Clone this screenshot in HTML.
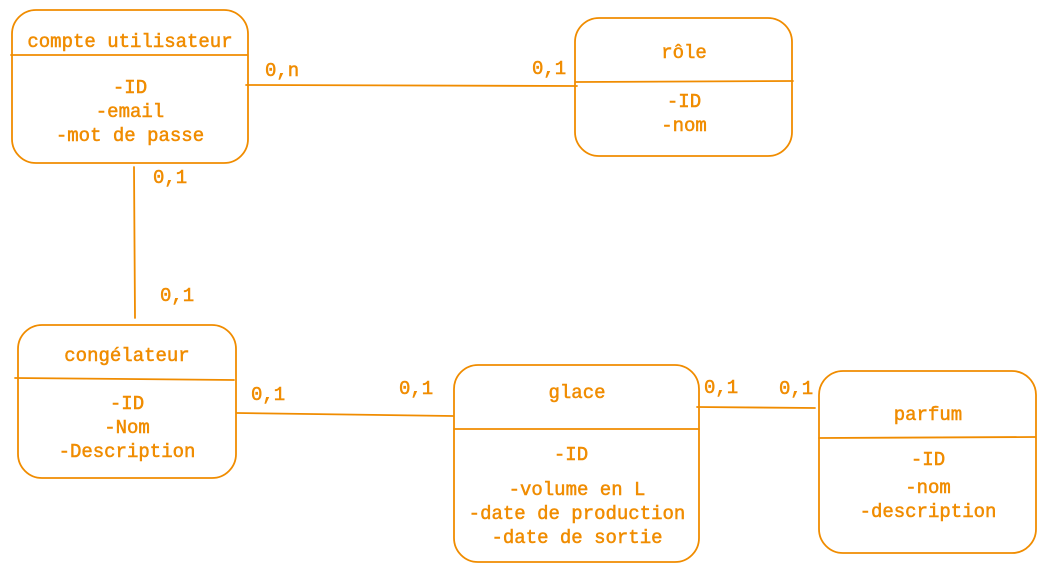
<!DOCTYPE html>
<html><head><meta charset="utf-8"><style>
html,body{margin:0;padding:0;background:#fff;}
svg text{font-family:"Liberation Mono","DejaVu Sans Mono",monospace;font-size:19px;fill:#f08c00;stroke:#f08c00;stroke-width:0.5;}
</style></head><body>
<svg width="1046" height="573" viewBox="0 0 1046 573" xmlns="http://www.w3.org/2000/svg">
<g fill="none" stroke="#f08c00" stroke-width="1.8" stroke-linecap="round">
<rect x="12" y="10" width="236" height="153" rx="24"/>
<line x1="11" y1="55" x2="247" y2="55"/>
<rect x="575" y="18" width="217" height="138" rx="24"/>
<line x1="576" y1="82" x2="793" y2="81"/>
<rect x="18" y="325" width="218" height="153" rx="24"/>
<line x1="15" y1="378" x2="234" y2="380"/>
<rect x="454" y="365" width="245" height="197" rx="24"/>
<line x1="454" y1="429" x2="699" y2="429"/>
<rect x="819" y="371" width="217" height="182" rx="24"/>
<line x1="819" y1="438" x2="1035" y2="437"/>
<line x1="246" y1="85" x2="577" y2="86"/>
<line x1="134" y1="167" x2="135" y2="318"/>
<line x1="237" y1="413" x2="453" y2="416"/>
<line x1="697" y1="407" x2="815" y2="408"/>
</g>
<g text-anchor="middle">
<text x="130" y="47">compte utilisateur</text>
<text x="130" y="93">-ID</text>
<text x="130" y="117">-email</text>
<text x="130" y="141">-mot de passe</text>
<text x="684" y="58">rôle</text>
<text x="684" y="107">-ID</text>
<text x="684" y="131">-nom</text>
<text x="127" y="361">congélateur</text>
<text x="127" y="409">-ID</text>
<text x="127" y="433">-Nom</text>
<text x="127" y="457">-Description</text>
<text x="577" y="398">glace</text>
<text x="571" y="460">-ID</text>
<text x="577" y="495">-volume en L</text>
<text x="577" y="519">-date de production</text>
<text x="577" y="543">-date de sortie</text>
<text x="928" y="420">parfum</text>
<text x="928" y="465">-ID</text>
<text x="928" y="493">-nom</text>
<text x="928" y="517">-description</text>
</g>
<g>
<text x="265" y="76">0,n</text>
<text x="532" y="74">0,1</text>
<text x="153" y="183">0,1</text>
<text x="160" y="301">0,1</text>
<text x="251" y="400">0,1</text>
<text x="399" y="394">0,1</text>
<text x="704" y="393">0,1</text>
<text x="779" y="394">0,1</text>
</g>
</svg>
</body></html>
